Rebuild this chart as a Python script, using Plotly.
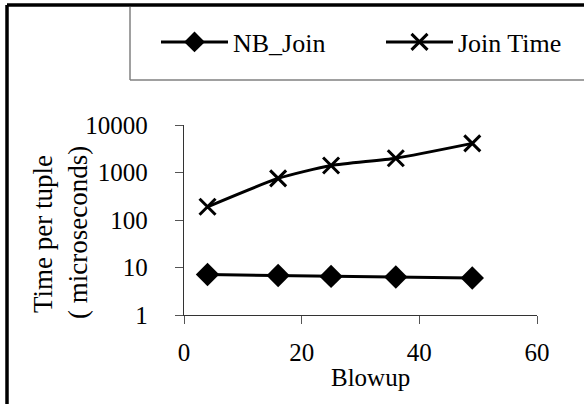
import plotly.graph_objects as go

blowup = [4, 16, 25, 36, 49]
nb_join = [7.1, 6.8, 6.5, 6.3, 6.0]
join_time = [190, 750, 1400, 2000, 4100]
x_ticks = [0, 20, 40, 60]
y_ticks = [1, 10, 100, 1000, 10000]
y_tick_text = ["1", "10", "100", "1000", "10000"]

W, H = 584, 404
L, R, T, B = 184, 47, 125, 89
pw, ph = W - L - R, H - T - B

def px_x(p):
    return (p - L) / pw

def px_y(p):
    return (H - B - p) / ph

FONT = "Liberation Serif, Times New Roman, serif"
fig = go.Figure()
fig.add_trace(go.Scatter(
    x=blowup, y=nb_join, name="NB_Join", mode="lines+markers",
    line=dict(color="black", width=3),
    marker=dict(symbol="diamond", size=18, color="black"),
    legend="legend",
))
fig.add_trace(go.Scatter(
    x=blowup, y=join_time, name="Join Time", mode="lines+markers",
    line=dict(color="black", width=3, shape="spline", smoothing=0.6),
    marker=dict(symbol="x-thin", size=16, color="black",
                line=dict(color="black", width=3)),
    legend="legend2",
))

leg_common = dict(orientation="h", xanchor="left", yanchor="middle",
                  bgcolor="rgba(0,0,0,0)", borderwidth=0, itemwidth=67,
                  font=dict(family=FONT, size=26))

fig.update_layout(
    width=W, height=H,
    margin=dict(l=L, r=R, t=T, b=B),
    paper_bgcolor="white", plot_bgcolor="white",
    font=dict(family=FONT, size=25, color="black"),
    showlegend=True,
    legend=dict(x=px_x(156), y=px_y(42), **leg_common),
    legend2=dict(x=px_x(381), y=px_y(42), **leg_common),
    xaxis=dict(range=[0, 60], tickvals=x_ticks, showgrid=False, zeroline=False,
               showline=True, linecolor="#333333", linewidth=1.3,
               ticks="outside", ticklen=8, tickcolor="#555555", tickwidth=1.3,
               ticklabelstandoff=7, tickfont=dict(family=FONT, size=25)),
    yaxis=dict(type="log", range=[0, 4], tickvals=y_ticks, ticktext=y_tick_text,
               showgrid=False, zeroline=False,
               showline=True, linecolor="#333333", linewidth=1.3,
               ticks="outside", ticklen=8, tickcolor="#555555", tickwidth=1.3,
               ticklabelstandoff=22, tickfont=dict(family=FONT, size=25)),
    shapes=[
        dict(type="line", xref="paper", yref="paper", x0=px_x(7), x1=px_x(590), y0=px_y(5), y1=px_y(5),
             line=dict(color="black", width=3.5)),
        dict(type="line", xref="paper", yref="paper", x0=px_x(7), x1=px_x(7), y0=px_y(5), y1=px_y(410),
             line=dict(color="black", width=3.5)),
        dict(type="line", xref="paper", yref="paper", x0=px_x(130), x1=px_x(130), y0=px_y(7), y1=px_y(80),
             line=dict(color="#808080", width=1.5)),
        dict(type="line", xref="paper", yref="paper", x0=px_x(130), x1=px_x(590), y0=px_y(80), y1=px_y(80),
             line=dict(color="#808080", width=1.5)),
    ],
    annotations=[
        dict(text="Time per tuple", xref="paper", yref="paper",
             x=px_x(43), y=px_y(234), xanchor="center", yanchor="middle", textangle=-90,
             showarrow=False, font=dict(family=FONT, size=27)),
        dict(text="( microseconds)", xref="paper", yref="paper",
             x=px_x(78), y=px_y(232), xanchor="center", yanchor="middle", textangle=-90,
             showarrow=False, font=dict(family=FONT, size=27)),
        dict(text="Blowup", xref="paper", yref="paper",
             x=px_x(370), y=px_y(377), xanchor="center", yanchor="middle",
             showarrow=False, font=dict(family=FONT, size=25)),
    ],
)
fig.write_html("out.html", config={"displayModeBar": False},
               post_script="document.body.style.margin='0';")
